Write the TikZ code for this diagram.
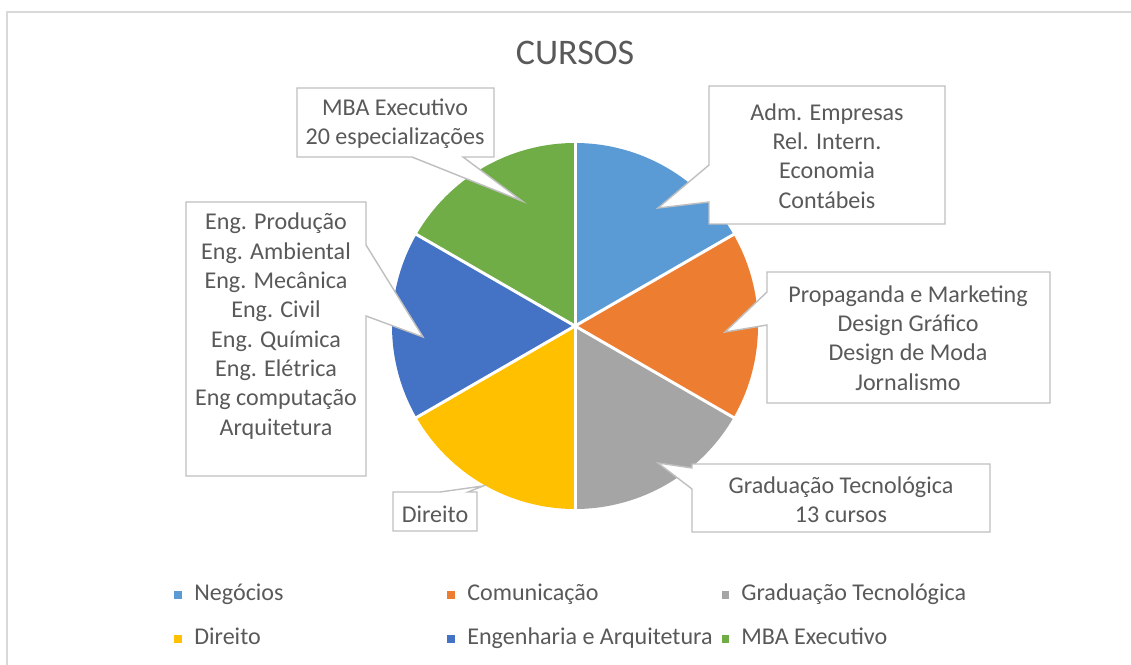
\documentclass[tikz,border=0pt]{standalone}
\usepackage{fontspec}
\setmainfont{Carlito}
\usepackage{tikz}
\definecolor{negocios}{HTML}{5B9BD5}
\definecolor{comunicacao}{HTML}{ED7D31}
\definecolor{graduacao}{HTML}{A5A5A5}
\definecolor{direito}{HTML}{FFC000}
\definecolor{engenharia}{HTML}{4472C4}
\definecolor{mba}{HTML}{70AD47}
\definecolor{txtgray}{HTML}{595959}
\definecolor{boxgray}{HTML}{BFBFBF}
\definecolor{framegray}{HTML}{D9D9D9}
\tikzset{
	calloutbox/.style={draw=boxgray, line width=0.8pt, fill=white}, % white box with pointer
	lbl/.style={text=txtgray, align=center, inner sep=0pt, font=\fontsize{13.7}{16.7}\selectfont},
	legsq/.style={fill=#1, minimum size=4pt, inner sep=0pt},
	legtxt/.style={text=txtgray, anchor=base west, inner sep=0pt, font=\fontsize{13.7}{16}\selectfont},
}

\begin{document}
\begin{tikzpicture}[x=0.02cm, y=-0.02cm]
	\useasboundingbox (0,0) rectangle (1131,665);
	% chart frame
	\draw[framegray, line width=1.1pt] (7,665) -- (7,12) -- (1131,12);
	% title
	\node[lbl, font=\fontsize{20.5}{24}\selectfont, anchor=base] (title) at (575,65) {CURSOS};
	
	% pie slices, 60 degrees each
	\coordinate (c) at (575,326);
	\foreach \a/\b/\col in {-90/-30/negocios, -30/30/comunicacao, 30/90/graduacao, 90/150/direito, 150/210/engenharia, 210/270/mba}
		\fill[\col] (c) -- ++(\a:183) arc[start angle=\a, end angle=\b, radius=183] -- cycle;
	% white lines between slices
	\foreach \a in {-90,-30,...,210}
		\draw[white, line width=1.7pt] (c) -- ++(\a:184);
	
	% pointer tips
	\coordinate (mbatip) at (522,201);
	\coordinate (negtip) at (658,208);
	\coordinate (comtip) at (725,332);
	\coordinate (gradtip) at (658,463);
	\coordinate (engtip) at (423,337);
	\coordinate (dirtip) at (483,486);
	
	% callout boxes
	\draw[calloutbox] (297,88) -- (494,88) -- (494,157) -- (463,157) -- (mbatip) -- (412,157) -- (297,157) -- cycle;
	\draw[calloutbox] (709,86) -- (945,86) -- (945,224) -- (709,224) -- (709,202) -- (negtip) -- (709,165) -- cycle;
	\draw[calloutbox] (767,272) -- (1050,272) -- (1050,403) -- (767,403) -- (767,325) -- (comtip) -- (767,292) -- cycle;
	\draw[calloutbox] (692,464) -- (990,464) -- (990,532) -- (692,532) -- (692,489) -- (gradtip) -- (692,468) -- cycle;
	\draw[calloutbox] (186,202) -- (366,202) -- (366,245) -- (engtip) -- (366,316) -- (366,476) -- (186,476) -- cycle;
	\draw[calloutbox] (393,492) -- (440,492) -- (dirtip) -- (468,492) -- (477,492) -- (477,531) -- (393,531) -- cycle;
	
	% callout texts
	\node[lbl] (mbalbl) at (395,124) {MBA Executivo\\20 especializações};
	\node[lbl] (neglbl) at (827,156) {Adm. Empresas\\Rel. Intern.\\Economia\\Contábeis};
	\node[lbl] (comlbl) at (908,338) {Propaganda e Marketing\\Design Gráfico\\Design de Moda\\Jornalismo};
	\node[lbl] (gradlbl) at (841,500) {Graduação Tecnológica\\13 cursos};
	\node[lbl] (englbl) at (276,326) {Eng. Produção\\Eng. Ambiental\\Eng. Mecânica\\Eng. Civil\\Eng. Química\\Eng. Elétrica\\Eng computação\\Arquitetura};
	\node[lbl] (dirlbl) at (435,514) {Direito};
	
	% legend
	\foreach \col/\txt/\x/\y [count=\i] in {negocios/Negócios/178/600, comunicacao/Comunicação/451/600, graduacao/Graduação Tecnológica/725/600,
		direito/Direito/178/644, engenharia/Engenharia e Arquitetura/451/644, mba/MBA Executivo/725/644}
	{
		\node[legsq=\col] (sq\i) at (\x,\y-5) {};
		\node[legtxt] (leg\i) at (\x+16,\y) {\txt};
	}
\end{tikzpicture}
\end{document}
